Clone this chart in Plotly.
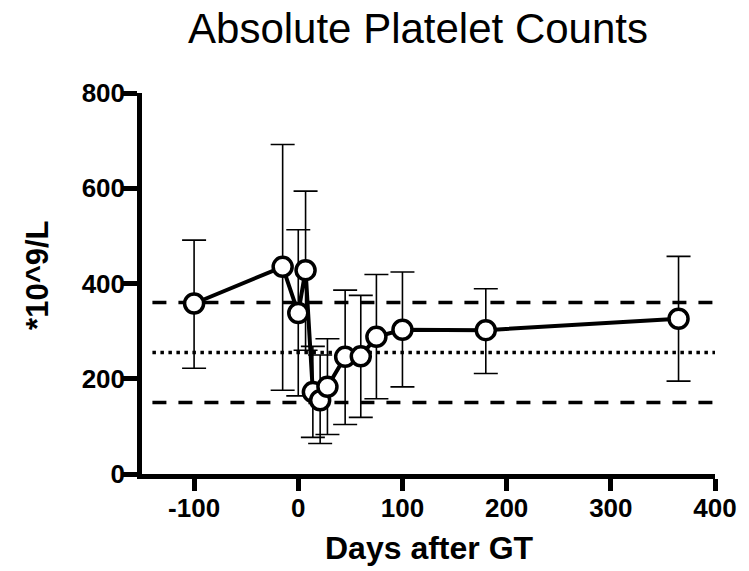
import plotly.graph_objects as go

# Data
days = [-100, -15, 0, 7, 14, 21, 28, 45, 60, 75, 100, 180, 365]
platelet_mean = [358, 435, 338, 428, 172, 155, 183, 246, 247, 288, 303, 302, 326]
platelet_upper = [491, 692, 513, 594, 268, 250, 284, 386, 375, 419, 424, 389, 457]
platelet_lower = [222, 176, 164, 260, 77, 64, 83, 104, 119, 158, 183, 211, 195]

ref_days = [-140, 405]
ref_upper = 360
ref_mid = 255
ref_lower = 150

x_ticks = [-100, 0, 100, 200, 300, 400]
y_ticks = [0, 200, 400, 600, 800]

err_plus = [u - m for u, m in zip(platelet_upper, platelet_mean)]
err_minus = [m - l for m, l in zip(platelet_mean, platelet_lower)]

FONT = "Arial, 'Liberation Sans', sans-serif"

W, H = 749, 571
L, R, T, B = 142, 29, 93, 97

fig = go.Figure()

for val, dash in [(ref_upper, "14px,12px"), (ref_lower, "14px,12px"), (ref_mid, "3.5px,4.5px")]:
    fig.add_trace(go.Scatter(
        x=ref_days, y=[val, val], mode="lines",
        line=dict(color="black", width=3.5, dash=dash),
        hoverinfo="skip", showlegend=False,
    ))

fig.add_trace(go.Scatter(
    x=days, y=platelet_mean, mode="lines+markers",
    line=dict(color="black", width=4),
    marker=dict(size=19, color="white", line=dict(color="black", width=3.5)),
    error_y=dict(type="data", symmetric=False, array=err_plus, arrayminus=err_minus,
                 color="black", thickness=1.6, width=12),
    showlegend=False,
))

plot_w = W - L - R
plot_h = H - T - B

fig.update_layout(
    width=W, height=H,
    paper_bgcolor="white", plot_bgcolor="white",
    margin=dict(l=L, r=R, t=T, b=B),
    title=dict(text="Absolute Platelet Counts", x=418 / W, xref="container", xanchor="center",
               y=1 - 28 / H, yref="container", yanchor="middle",
               font=dict(family=FONT, size=42, color="black")),
    font=dict(family=FONT, color="black"),
    annotations=[
        dict(
            text="<b>*10^9/L</b>", textangle=-90, showarrow=False,
            xref="paper", yref="paper",
            x=(36 - L) / plot_w, y=1 - (275 - T) / plot_h,
            xanchor="center", yanchor="middle",
            font=dict(family=FONT, size=31, color="black"),
        ),
        dict(
            text="<b>Days after GT</b>", showarrow=False,
            xref="paper", yref="paper",
            x=(432 - L) / plot_w, y=-(548 - (H - B)) / plot_h,
            xanchor="center", yanchor="middle",
            font=dict(family=FONT, size=32, color="black"),
        ),
    ],
)

fig.update_xaxes(
    range=[-150, 400], tickvals=x_ticks, ticktext=[str(v) for v in x_ticks],
    showline=True, linecolor="black", linewidth=4.5,
    ticks="outside", ticklen=12, tickwidth=4.5, tickcolor="black",
    showgrid=False, zeroline=False, ticklabelstandoff=-5,
    tickfont=dict(family=FONT, size=26, color="black", weight="bold"),
)
fig.update_yaxes(
    range=[0, 800], tickvals=y_ticks, ticktext=[str(v) for v in y_ticks],
    showline=True, linecolor="black", linewidth=4.5,
    ticks="outside", ticklen=14, tickwidth=4.5, tickcolor="black",
    showgrid=False, zeroline=False, ticklabelstandoff=-7,
    tickfont=dict(family=FONT, size=26, color="black", weight="bold"),
)

fig.write_html("out.html", config={"displayModeBar": False},
               post_script="document.body.style.margin='0';")
